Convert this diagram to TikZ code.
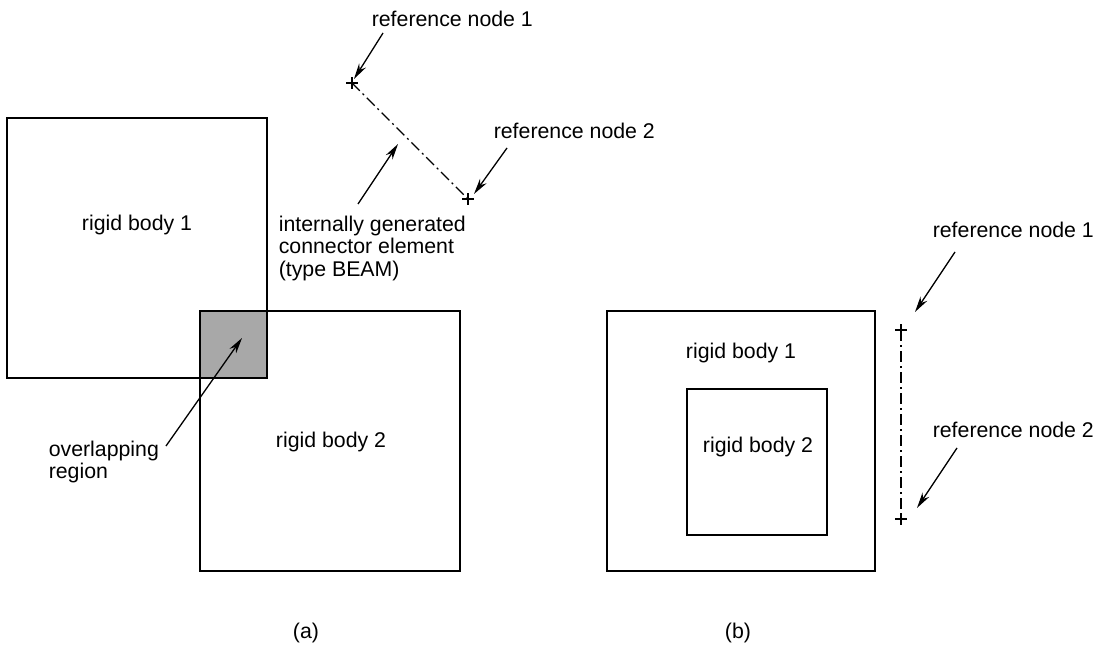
\documentclass[tikz,border=0pt]{standalone}
\usepackage{fontspec}
\setmainfont{Liberation Sans}
\usetikzlibrary{arrows.meta,calc}
\definecolor{overlapgray}{RGB}{168,168,168}
\begin{document}
\begin{tikzpicture}[x=1pt,y=-1pt,
  line width=1.6pt,
  font=\fontsize{21.3}{22.5}\selectfont,
  box/.style={draw, inner sep=0pt, minimum width=#1, minimum height=#1},
  lbl/.style={inner sep=0pt},
  ptr/.style={-{Stealth[length=16pt,width=8pt]}, line width=1.3pt},
  dashdot/.style={line width=1.3pt, dash pattern=on 11pt off 4pt on 2pt off 4pt},
  crossmark/.style={line width=1.2pt}]
\useasboundingbox (0,0) rectangle (1106,653);
% ---------- (a) ----------
\fill[overlapgray] (200,311) rectangle (267,378);
\node[box=260pt] (rbA) at (137,248) {};
\node[box=260pt] (rbB) at (330,441) {};
\node[lbl, anchor=base] (tA1) at (137,230) {rigid body 1};
\node[lbl, anchor=base] (tA2) at (331,447) {rigid body 2};
% reference nodes (a)
\coordinate (r1) at (352,83);
\coordinate (r2) at (468,199);
\draw[dashdot] (r1) -- (r2);
\draw[crossmark] ($(r1)+(-6,0)$) -- ($(r1)+(6,0)$) ($(r1)+(0,-6)$) -- ($(r1)+(0,6)$);
\draw[crossmark] ($(r2)+(-6,0)$) -- ($(r2)+(6,0)$) ($(r2)+(0,-6)$) -- ($(r2)+(0,6)$);
\node[lbl, anchor=base west] (lr1) at (371,26) {reference node 1};
\node[lbl, anchor=base west] (lr2) at (493,138) {reference node 2};
\coordinate (p1) at (383,33);
\coordinate (h1) at (354,79);
\coordinate (p2) at (507,148);
\coordinate (h2) at (474,194);
\draw[ptr] (p1) -- (h1);
\draw[ptr] (p2) -- (h2);
\node[lbl, anchor=north west, align=left] (conn) at (278,215)
  {internally generated\\connector element\\(type BEAM)};
\coordinate (p3) at (358,204);
\coordinate (h3) at (398,144);
\draw[ptr] (p3) -- (h3);
\node[lbl, anchor=north west, align=left] (ovl) at (48,440) {overlapping\\region};
\coordinate (p4) at (166,446);
\coordinate (h4) at (242,338);
\draw[ptr] (p4) -- (h4);
\node[lbl, anchor=base] (capA) at (306,638) {(a)};
% ---------- (b) ----------
\node[draw, inner sep=0pt, minimum width=268pt, minimum height=260pt] (outB) at (741,441) {};
\node[draw, inner sep=0pt, minimum width=140pt, minimum height=146pt] (inB) at (757,462) {};
\node[lbl, anchor=base] (tB1) at (741,358) {rigid body 1};
\node[lbl, anchor=base] (tB2) at (758,452) {rigid body 2};
\coordinate (s1) at (901,330);
\coordinate (s2) at (901,519);
\draw[dashdot] (s1) -- (s2);
\draw[crossmark] ($(s1)+(-6,0)$) -- ($(s1)+(6,0)$) ($(s1)+(0,-6)$) -- ($(s1)+(0,6)$);
\draw[crossmark] ($(s2)+(-6,0)$) -- ($(s2)+(6,0)$) ($(s2)+(0,-6)$) -- ($(s2)+(0,6)$);
\node[lbl, anchor=base west] (lb1) at (932,237) {reference node 1};
\node[lbl, anchor=base west] (lb2) at (932,437) {reference node 2};
\coordinate (q1) at (955,252);
\coordinate (g1) at (915,312);
\coordinate (q2) at (957,448);
\coordinate (g2) at (917,508);
\draw[ptr] (q1) -- (g1);
\draw[ptr] (q2) -- (g2);
\node[lbl, anchor=base] (capB) at (738,638) {(b)};
\end{tikzpicture}
\end{document}
